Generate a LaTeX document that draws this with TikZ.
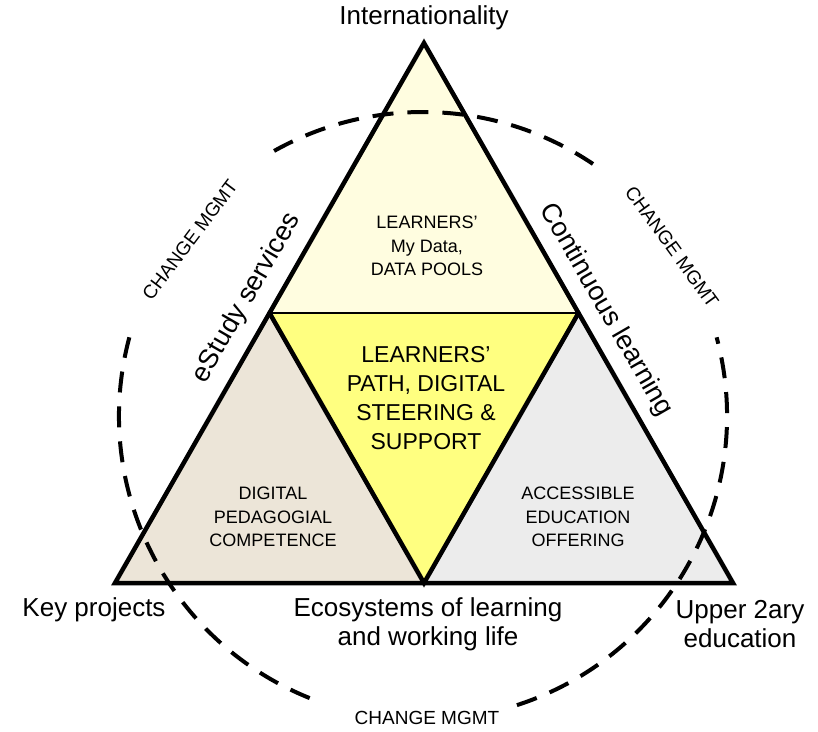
\documentclass[tikz,border=0pt]{standalone}
\usepackage{fontspec}
\setmainfont{Liberation Sans}
\definecolor{topfill}{RGB}{255,253,224}
\definecolor{centerfill}{RGB}{255,255,128}
\definecolor{leftfill}{RGB}{236,229,216}
\definecolor{rightfill}{RGB}{236,236,236}
\begin{document}
\begin{tikzpicture}[x=1pt,y=1pt,
  edgeline/.style={line width=4.5pt, line join=miter, line cap=round},
  midline/.style={line width=2.5pt},
  dashring/.style={line width=4pt, dash pattern=on 21pt off 14pt},
  biglabel/.style={font=\fontsize{26}{29}\selectfont, align=center, inner sep=0pt},
  sidelabel/.style={font=\fontsize{27}{30}\selectfont, inner sep=0pt},
  midtext/.style={font=\fontsize{23}{29}\selectfont, align=center, inner sep=0pt},
  smalltext/.style={font=\fontsize{18}{23.5}\selectfont, align=center, inner sep=0pt},
  mgmt/.style={font=\fontsize{19}{22}\selectfont, inner sep=0pt}]
\useasboundingbox (0,0) rectangle (818,731);
\coordinate (T) at (424,688);
\coordinate (L) at (115,148);
\coordinate (R) at (733,148);
\coordinate (ML) at (269.5,418);
\coordinate (MR) at (578.5,418);
\coordinate (MB) at (424,148);
\coordinate (C) at (423,315);
% fills
\fill[topfill] (T) -- (ML) -- (MR) -- cycle;
\fill[leftfill] (ML) -- (L) -- (MB) -- cycle;
\fill[rightfill] (MR) -- (MB) -- (R) -- cycle;
\fill[centerfill] (ML) -- (MR) -- (MB) -- cycle;
% lines
\draw[midline] (ML) -- (MR);
\draw[edgeline] (ML) -- (MB) -- (MR);
\draw[edgeline] (T) -- (L) -- (R) -- cycle;
% dashed ring
\draw[dashring] (C) ++(56:304) arc[start angle=56, end angle=121, radius=304];
\draw[dashring] (C) ++(165:304) arc[start angle=165, end angle=250, radius=304];
\draw[dashring] (C) ++(288:304) arc[start angle=288, end angle=375, radius=304];
% labels
\node[biglabel] (intl) at (424,713) {Internationality};
\node[biglabel] (key) at (94,121) {Key projects};
\node[biglabel] (eco) at (428,106.5) {Ecosystems of learning\\and working life};
\node[biglabel] (upper) at (740,106.5) {Upper 2ary\\education};
\node[sidelabel, rotate=60] (estudy) at (247,433) {eStudy services};
\node[sidelabel, rotate=-60] (cont) at (606,421) {Continuous learning};
\node[mgmt, rotate=53] (cm1) at (190,491) {CHANGE MGMT};
\node[mgmt, rotate=-54] (cm2) at (672,484) {CHANGE MGMT};
\node[mgmt] (cm3) at (427,13) {CHANGE MGMT};
\node[smalltext] (data) at (427,485) {LEARNERS'\\My Data,\\DATA POOLS};
\node[midtext] (path) at (426,333) {LEARNERS'\\PATH, DIGITAL\\STEERING \&\\SUPPORT};
\node[smalltext] (ped) at (273,214) {DIGITAL\\PEDAGOGIAL\\COMPETENCE};
\node[smalltext] (acc) at (578,214) {ACCESSIBLE\\EDUCATION\\OFFERING};
\end{tikzpicture}
\end{document}
